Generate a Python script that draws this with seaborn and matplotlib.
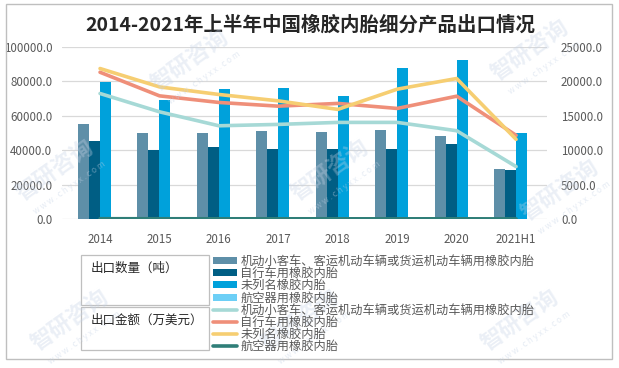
import numpy as np
import pandas as pd
import seaborn as sns
import matplotlib
matplotlib.use("Agg")
import matplotlib.pyplot as plt
from matplotlib.patches import Rectangle, Patch
from matplotlib.lines import Line2D
from matplotlib.ticker import MultipleLocator, StrMethodFormatter

years = ["2014", "2015", "2016", "2017", "2018", "2019", "2020", "2021H1"]
products = ["机动小客车、客运机动车辆或货运机动车辆用橡胶内胎", "自行车用橡胶内胎",
            "未列名橡胶内胎", "航空器用橡胶内胎"]

# 出口数量（吨）
qty_car = [55200, 50000, 50000, 51200, 50600, 51700, 48300, 29100]
qty_bike = [45300, 40100, 41900, 40700, 40700, 40700, 43600, 28600]
qty_other = [79800, 69200, 75600, 76200, 71400, 87700, 92300, 50000]
qty_air = [60, 50, 40, 40, 30, 30, 40, 20]

# 出口金额（万美元）
amt_car = [18240, 15580, 13550, 13750, 14040, 14040, 12830, 7620]
amt_bike = [21330, 17900, 16940, 16400, 16800, 16070, 17850, 12160]
amt_other = [21870, 19200, 18100, 17170, 15930, 18870, 20420, 11580]
amt_air = [40, 35, 30, 30, 28, 25, 30, 15]

bar_colors = ["#5E8FA8", "#005E84", "#00A1DB", "#6DCFF6"]
line_colors = ["#A6D9D6", "#EF8F79", "#F6CE72", "#2F7E78"]

W, H = 619, 368
TXT = "#595959"

sns.set_style("white")
plt.rcParams["font.family"] = ["Noto Sans CJK SC", "DejaVu Sans"]

qty = pd.DataFrame({"年份": years * 4,
                    "产品": np.repeat(products, len(years)),
                    "数量": qty_car + qty_bike + qty_other + qty_air})

fig = plt.figure(figsize=(W / 100, H / 100), dpi=100)
ax = fig.add_axes([62 / W, 1 - 219 / H, (547 - 62) / W, (219 - 47) / H])

sns.barplot(data=qty, x="年份", y="数量", hue="产品", order=years, hue_order=products,
            palette=bar_colors, width=0.74, saturation=1, ax=ax, legend=False,
            linewidth=0, zorder=2)
ax.set_xlim(-0.64, 7.52)
ax.set_ylim(0, 100000)
ax.yaxis.set_major_locator(MultipleLocator(20000))
ax.yaxis.set_major_formatter(StrMethodFormatter("{x:.1f}"))
ax.grid(axis="y", color="#d9d9d9", linewidth=0.9, zorder=0)
ax.set_axisbelow(True)
ax.set_xlabel("")
ax.set_ylabel("")
for s in ax.spines.values():
    s.set_visible(False)
ax.tick_params(axis="both", length=0, labelsize=8.3, colors=TXT)
ax.tick_params(axis="x", pad=10)
ax.tick_params(axis="y", pad=7)

ax2 = ax.twinx()
xs = np.arange(len(years))
for vals, c in zip([amt_car, amt_bike, amt_other, amt_air], line_colors):
    sns.lineplot(x=xs, y=vals, color=c, linewidth=2.6, ax=ax2, zorder=3)
ax2.set_ylim(0, 25000)
ax2.yaxis.set_major_locator(MultipleLocator(5000))
ax2.yaxis.set_major_formatter(StrMethodFormatter("{x:.1f}"))
for s in ax2.spines.values():
    s.set_visible(False)
ax2.tick_params(axis="y", length=0, labelsize=8.3, colors=TXT, pad=10)
ax2.set_ylabel("")
ax2.set_xlim(-0.64, 7.52)

fig.text(310 / W, 1 - 25 / H, "2014-2021年上半年中国橡胶内胎细分产品出口情况",
         ha="center", va="center", fontsize=14, fontweight="bold", color="#262626")

# legend table
handles = [Patch(facecolor=c, edgecolor="none") for c in bar_colors] + \
          [Line2D([0], [0], color=c, linewidth=2.6) for c in line_colors]
labels = products + products
leg = fig.legend(handles, labels, loc="upper left", bbox_to_anchor=(213 / W, 1 - 255 / H),
                 frameon=False, fontsize=8.8, handlelength=2.0, handleheight=0.5,
                 labelspacing=-0.07, handletextpad=0.25, borderpad=0, borderaxespad=0)
for t in leg.get_texts():
    t.set_color(TXT)

for y0, y1, label in [(255, 305, "出口数量（吨）"), (307, 350, "出口金额（万美元）")]:
    fig.add_artist(Rectangle((81 / W, 1 - y1 / H), (209 - 81) / W, (y1 - y0) / H,
                             transform=fig.transFigure, fill=False,
                             edgecolor="#bfbfbf", linewidth=0.9))
    fig.text(91 / W, 1 - (y0 + 13) / H, label, ha="left", va="center",
             fontsize=9, color="#262626")

# outer border
fig.add_artist(Rectangle((6 / W, 1 - 359 / H), (612 - 6) / W, (359 - 4) / H,
                         transform=fig.transFigure, fill=False,
                         edgecolor="#bfbfbf", linewidth=1))

# watermark
for cx, cy in [(190, 60), (530, 50), (55, 170), (330, 170), (560, 190), (70, 320), (300, 320), (520, 320)]:
    fig.text(cx / W, 1 - cy / H, "智研咨询", ha="center", va="center", rotation=35,
             fontsize=16, fontweight="bold", color="#c5d3e6", alpha=0.35)
    fig.text((cx + 14) / W, 1 - (cy + 18) / H, "w w w . c h y x x . c o m", ha="center",
             va="center", rotation=35, fontsize=6, color="#c5d3e6", alpha=0.45)

fig.savefig("out.png", dpi=100)
